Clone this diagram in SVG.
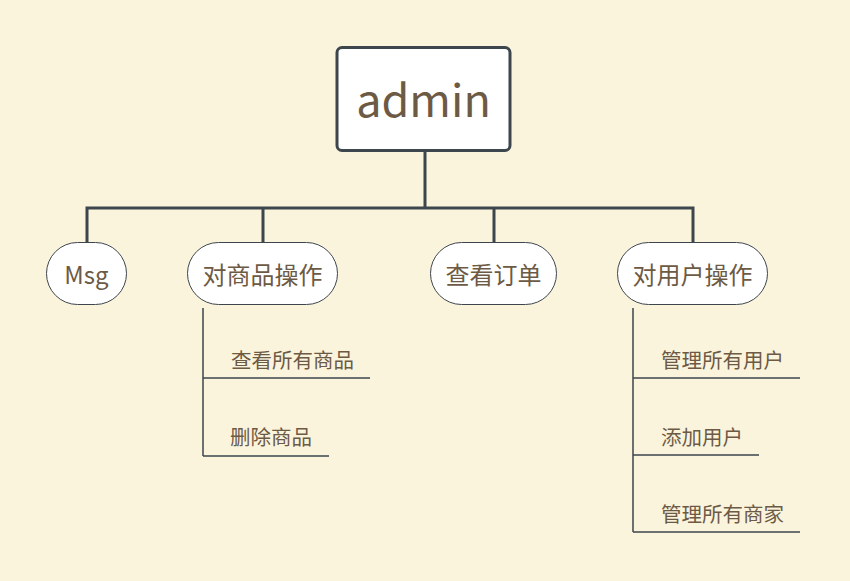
<svg xmlns="http://www.w3.org/2000/svg" width="850" height="581" viewBox="0 0 850 581">
<style>
.bg{fill:#fbf4dd}
.main{stroke:#3d454d;stroke-width:3;fill:none}
.sub{stroke:#3d454d;stroke-width:1.5;fill:none}
.pill{fill:#ffffff;stroke:#3d454d;stroke-width:1}
.t{font-family:"Noto Sans CJK SC","Noto Sans",sans-serif;fill:#6d5a45}
.n{font-size:24px;text-anchor:middle}
.s{font-size:20.5px}
</style>
<rect class="bg" x="0" y="0" width="850" height="581"/>
<g id="connectors">
<path class="main" d="M425 151V208M87 243V208H693V243M263 208V243M494 208V243"/>
<path class="sub" d="M203 308V456M203 378H370M203 456H329"/>
<path class="sub" d="M633 308V532M633 378H800M633 455H759M633 532H800"/>
</g>
<g id="admin">
<rect x="337" y="47.5" width="173" height="103" rx="5" fill="#ffffff" stroke="#3d454d" stroke-width="3"/>
<text class="t" x="423.5" y="117" font-size="45" text-anchor="middle">admin</text>
</g>
<g id="msg">
<rect class="pill" x="46.5" y="242.5" width="80" height="62" rx="31"/>
<text class="t n" x="86.5" y="284">Msg</text>
</g>
<g id="goods">
<rect class="pill" x="187.5" y="242.5" width="150" height="62" rx="31"/>
<text class="t n" x="262.5" y="284">对商品操作</text>
</g>
<g id="orders">
<rect class="pill" x="430.5" y="242.5" width="126" height="62" rx="31"/>
<text class="t n" x="493.5" y="284">查看订单</text>
</g>
<g id="users">
<rect class="pill" x="617.5" y="242.5" width="150" height="62" rx="31"/>
<text class="t n" x="692.5" y="284">对用户操作</text>
</g>
<g id="goods-view"><text class="t s" x="231" y="368">查看所有商品</text></g>
<g id="goods-delete"><text class="t s" x="230" y="445">删除商品</text></g>
<g id="users-manage"><text class="t s" x="661" y="368">管理所有用户</text></g>
<g id="users-add"><text class="t s" x="661" y="445">添加用户</text></g>
<g id="merchants-manage"><text class="t s" x="661" y="522">管理所有商家</text></g>
</svg>
